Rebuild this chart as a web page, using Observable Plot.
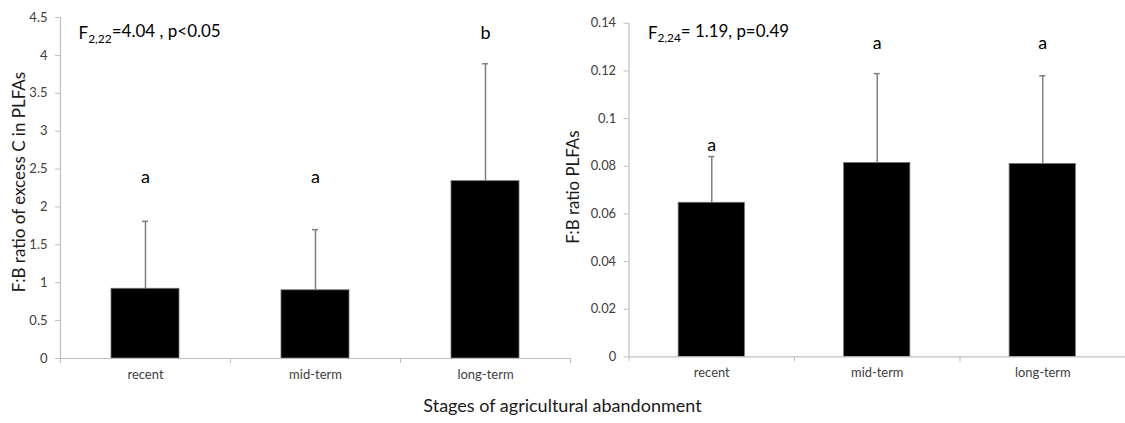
<!DOCTYPE html>
<html>
<head>
<meta charset="utf-8">
<script src="https://cdn.jsdelivr.net/npm/d3@7"></script>
<script src="https://cdn.jsdelivr.net/npm/@observablehq/plot@0.6"></script>
<style>
  html, body { margin: 0; padding: 0; background: #fff; overflow: hidden; }
  #wrap { position: relative; width: 1125px; height: 423px; overflow: hidden; font-family: Lato, "Liberation Sans", sans-serif; }
  #left { position: absolute; left: 0; top: 0; }
  #right { position: absolute; left: 560px; top: 0; }
  #xtitle { position: absolute; left: 0; top: 396px; width: 1125px; text-align: center; font-size: 18px; color: #1a1a1a; line-height: 1; }
</style>
</head>
<body>
<div id="wrap">
  <div id="left"></div>
  <div id="right"></div>
  <div id="xtitle">Stages of agricultural abandonment</div>
</div>
<script>
// ---- data ----
const stages = ["recent", "mid-term", "long-term"];

const leftMeans = [0.92, 0.90, 2.34];
const leftErrTop = [1.81, 1.70, 3.89];
const leftLetters = ["a", "a", "b"];
const leftLetterY = [2.39, 2.39, 4.29];
const leftTicks = [0, 0.5, 1, 1.5, 2, 2.5, 3, 3.5, 4, 4.5];
const leftYLabel = "F:B ratio of excess C in PLFAs";
const leftStat = ["F", "2,22", "=4.04 , p<0.05"];

const rightMeans = [0.0647, 0.0814, 0.0810];
const rightErrTop = [0.0841, 0.1189, 0.1180];
const rightLetters = ["a", "a", "a"];
const rightLetterY = [0.0890, 0.1317, 0.1317];
const rightTicks = [0, 0.02, 0.04, 0.06, 0.08, 0.1, 0.12, 0.14];
const rightYLabel = "F:B ratio PLFAs";
const rightStat = ["F", "2,24", "= 1.19, p=0.49"];

const FONT = "Lato, 'Liberation Sans', sans-serif";
const AXIS = "#bfbfbf";
const LABEL = "#404040";

function panel(opts) {
  const rows = stages.map((s, i) => ({
    stage: s, i, mean: opts.means[i], top: opts.errTop[i],
    letter: opts.letters[i], ly: opts.letterY[i]
  }));
  const svg = Plot.plot({
    width: opts.width, height: 398,
    marginLeft: opts.marginLeft, marginRight: opts.marginRight,
    marginTop: opts.marginTop, marginBottom: opts.marginBottom,
    style: { fontFamily: FONT, background: "transparent", overflow: "visible" },
    x: { type: "linear", domain: [0, 3] },
    y: { domain: opts.domain },
    marks: [
      // bars
      Plot.rectY(rows, { x1: d => d.i, x2: d => d.i + 1, y: "mean", fill: "#000", stroke: "#6f6f6f", strokeWidth: 0.8, insetLeft: opts.inset, insetRight: opts.inset }),
      // error bars
      Plot.ruleX(rows, { x: d => d.i + 0.5, y1: "mean", y2: "top", stroke: "#7f7f7f", strokeWidth: 1.5 }),
      Plot.ruleY(rows, { y: "top", x1: d => d.i + 0.5, x2: d => d.i + 0.5, insetLeft: -3, insetRight: -3, stroke: "#7f7f7f", strokeWidth: 1.5 }),
      // axis lines
      Plot.ruleY([0], { stroke: AXIS, strokeWidth: 1.2 }),
      Plot.ruleX([0], { stroke: AXIS, strokeWidth: 1.2 }),
      // y axis
      Plot.axisY({ ticks: opts.ticks, tickFormat: d => String(d), tickSize: 5, tickPadding: 8, stroke: AXIS, color: LABEL, fontSize: 13, label: null }),
      // x boundary ticks
      Plot.axisX({ ticks: [0, 1, 2, 3], tickFormat: () => "", tickSize: 5, stroke: AXIS, label: null }),
      // x category labels
      Plot.axisX({ ticks: [0.5, 1.5, 2.5], tickFormat: d => stages[Math.floor(d)], tickSize: 0, tickPadding: 11, color: LABEL, fontSize: 13, label: null }),
      // significance letters
      Plot.text(rows, { x: d => d.i + 0.5, y: "ly", text: "letter", fontSize: 18, lineAnchor: "middle", fill: "#000" }),
      // y label
      Plot.text([opts.yLabel], { frameAnchor: "left", dx: opts.yLabelDx, dy: opts.yLabelDy, rotate: -90, text: d => d, fontSize: 17, lineAnchor: "middle", textAnchor: "middle", fill: "#1a1a1a" }),
      // stat annotation
      Plot.text([opts.stat.join("")], { frameAnchor: "top-left", dx: opts.statDx, dy: opts.statDy, text: d => d, fontSize: 17, textAnchor: "start", lineAnchor: "middle", fill: "#000", ariaLabel: () => "stat" })
    ]
  });
  // rebuild stat text with subscript
  d3.select(svg).selectAll('text[aria-label="stat"], g[aria-label="stat"] text').each(function () {
    const t = d3.select(this);
    t.selectAll("*").remove();
    t.text(null);
    t.append("tspan").text(opts.stat[0]);
    t.append("tspan").attr("dy", "0.3em").attr("font-size", 12).text(opts.stat[1]);
    t.append("tspan").attr("dy", "-0.3em").text(opts.stat[2]);
  });
  return svg;
}

document.getElementById("left").appendChild(panel({
  width: 575, marginLeft: 60, marginRight: 5, marginTop: 17, marginBottom: 40,
  domain: [0, 4.5], ticks: leftTicks, inset: 51,
  means: leftMeans, errTop: leftErrTop, letters: leftLetters, letterY: leftLetterY,
  yLabel: leftYLabel, yLabelDx: -41, yLabelDy: -6,
  stat: leftStat, statDx: 18, statDy: 16
}));

document.getElementById("right").appendChild(panel({
  width: 569, marginLeft: 69, marginRight: 0, marginTop: 23, marginBottom: 39,
  domain: [0, 0.14], ticks: rightTicks, inset: 50,
  means: rightMeans, errTop: rightErrTop, letters: rightLetters, letterY: rightLetterY,
  yLabel: rightYLabel, yLabelDx: -56, yLabelDy: -3,
  stat: rightStat, statDx: 19, statDy: 10
}));
</script>
</body>
</html>
